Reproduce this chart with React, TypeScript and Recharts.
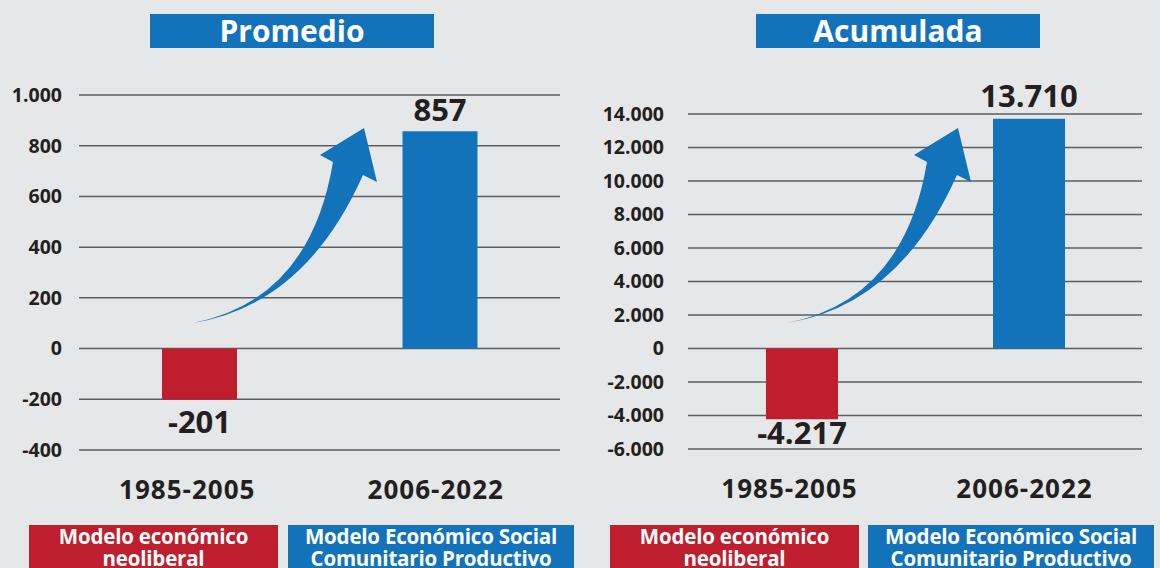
import { BarChart, Bar, XAxis, YAxis, CartesianGrid, Cell, LabelList } from "recharts";

// Two panels: average and accumulated value per economic-model period.
const CATEGORIES = ["1985-2005", "2006-2022"];
const PROMEDIO = [-201, 857];
const ACUMULADA = [-4217, 13710];
const PROMEDIO_TICKS = [-400, -200, 0, 200, 400, 600, 800, 1000];
const ACUMULADA_TICKS = [-6000, -4000, -2000, 0, 2000, 4000, 6000, 8000, 10000, 12000, 14000];
const LEGEND_LINES = [
  ["Modelo económico", "neoliberal"],
  ["Modelo Económico Social", "Comunitario Productivo"],
];

const RED = "#be1e2d";
const BLUE = "#1273bb";
const BAR_COLORS = [RED, BLUE];
const BG = "#e6e7e8";
const INK = "#231f20";
const GRID = "#5d5e61";
const FONT = "'Open Sans', 'DejaVu Sans', sans-serif";

const PANEL_W = 580;
const CHART_H = 510;
// category labels sit a little left of their bar centres in the original
const CAT_SHIFT = [-12, -4];

// 1000 -> "1.000", -4217 -> "-4.217"
const fmt = (n: number) => {
  const s = Math.abs(n)
    .toString()
    .replace(/\B(?=(\d{3})+(?!\d))/g, ".");
  return n < 0 ? "-" + s : s;
};

// Arrow outline relative to its tail point (pixels).
const ARROW = {
  c1: [117, -23],
  a: [140, -161],
  l: [127, -168],
  p: [171, -195],
  r: [184, -141],
  b: [170, -148],
  c2: [112, -18],
};

function arrowPath(tx: number, ty: number) {
  const pt = (k: keyof typeof ARROW) => `${tx + ARROW[k][0]},${ty + ARROW[k][1]}`;
  return `M${tx},${ty} Q${pt("c1")} ${pt("a")} L${pt("l")} L${pt("p")} L${pt("r")} L${pt("b")} Q${pt("c2")} ${tx},${ty} Z`;
}

interface PanelProps {
  left: number;
  title: string;
  titleLeft: number;
  values: number[];
  ticks: number[];
  yAxisWidth: number;
  marginRight: number;
  marginTop: number;
  xAxisHeight: number;
  tickGap: number;
  barSize: number;
  posGap: number;
  negGap: number;
  legend: Array<{ left: number; width: number }>;
  arrowTail: [number, number];
}

function Panel(p: PanelProps) {
  const data = CATEGORIES.map((cat, i) => ({ cat, value: p.values[i] }));

  const renderLabel = (props: any) => {
    const { x, y, width, height, value } = props;
    const top = Math.min(y, y + height);
    const bottom = Math.max(y, y + height);
    const ty = value < 0 ? bottom + p.negGap : top - p.posGap;
    return (
      <text
        x={x + width / 2}
        y={ty}
        textAnchor="middle"
        fill={INK}
        fontSize={31}
        fontWeight={700}
        fontFamily={FONT}
      >
        {fmt(value)}
      </text>
    );
  };

  const renderCatTick = (props: any) => {
    const { x, y, payload, index } = props;
    return (
      <text
        x={x + (CAT_SHIFT[index] ?? 0)}
        y={y + 49}
        textAnchor="middle"
        fill={INK}
        fontSize={26}
        fontWeight={700}
        letterSpacing={1}
        fontFamily={FONT}
      >
        {payload.value}
      </text>
    );
  };

  return (
    <div style={{ position: "absolute", left: p.left, top: 0, width: PANEL_W, height: 568 }}>
      <div
        style={{
          position: "absolute",
          left: p.titleLeft,
          top: 14,
          width: 284,
          height: 34,
          background: BLUE,
          color: "#fff",
          fontFamily: FONT,
          fontWeight: 700,
          fontSize: 30,
          lineHeight: "34px",
          textAlign: "center",
        }}
      >
        {p.title}
      </div>

      <div style={{ position: "absolute", left: 0, top: 0 }}>
        <BarChart
          width={PANEL_W}
          height={CHART_H}
          data={data}
          margin={{ top: p.marginTop, right: p.marginRight, left: 0, bottom: 0 }}
        >
          <CartesianGrid vertical={false} stroke={GRID} strokeWidth={1.5} />
          <XAxis
            dataKey="cat"
            axisLine={false}
            tickLine={false}
            tickSize={0}
            tickMargin={0}
            height={p.xAxisHeight}
            tick={renderCatTick}
            interval={0}
          />
          <YAxis
            domain={[p.ticks[0], p.ticks[p.ticks.length - 1]]}
            ticks={p.ticks}
            interval={0}
            width={p.yAxisWidth}
            axisLine={false}
            tickLine={false}
            tickSize={0}
            tickMargin={p.tickGap}
            tickFormatter={fmt}
            tick={{ fill: INK, fontSize: 19.5, fontWeight: 700, fontFamily: FONT }}
          />
          <Bar dataKey="value" barSize={p.barSize} isAnimationActive={false}>
            {data.map((d, i) => (
              <Cell key={d.cat} fill={BAR_COLORS[i]} />
            ))}
            <LabelList dataKey="value" content={renderLabel} />
          </Bar>
        </BarChart>
      </div>

      {/* decorative curved arrow from the red bar toward the blue one */}
      <svg
        width={PANEL_W}
        height={CHART_H}
        style={{ position: "absolute", left: 0, top: 0, pointerEvents: "none" }}
      >
        <path d={arrowPath(p.arrowTail[0], p.arrowTail[1])} fill={BLUE} />
      </svg>

      {p.legend.map((box, i) => (
        <div
          key={i}
          style={{
            position: "absolute",
            left: box.left,
            top: 525,
            width: box.width,
            height: 60,
            background: BAR_COLORS[i],
            color: "#fff",
            fontFamily: FONT,
            fontWeight: 700,
            fontSize: 20.5,
            lineHeight: "22px",
            letterSpacing: -0.2,
            textAlign: "center",
            paddingTop: 0,
            boxSizing: "border-box",
            whiteSpace: "nowrap",
          }}
        >
          {LEGEND_LINES[i][0]}
          <br />
          {LEGEND_LINES[i][1]}
        </div>
      ))}
    </div>
  );
}

export default function App() {
  return (
    <div
      style={{
        position: "absolute",
        left: 0,
        top: 0,
        width: 1160,
        height: 568,
        background: BG,
        overflow: "hidden",
      }}
    >
      <Panel
        left={0}
        title="Promedio"
        titleLeft={150}
        values={PROMEDIO}
        ticks={PROMEDIO_TICKS}
        yAxisWidth={79}
        marginRight={20}
        marginTop={95}
        xAxisHeight={60}
        tickGap={17}
        barSize={75}
        posGap={10}
        negGap={33}
        legend={[
          { left: 29, width: 249 },
          { left: 288, width: 286 },
        ]}
        arrowTail={[193, 323]}
      />
      <Panel
        left={580}
        title="Acumulada"
        titleLeft={176}
        values={ACUMULADA}
        ticks={ACUMULADA_TICKS}
        yAxisWidth={108}
        marginRight={18}
        marginTop={114}
        xAxisHeight={61}
        tickGap={24}
        barSize={72}
        posGap={12}
        negGap={25}
        legend={[
          { left: 30, width: 249 },
          { left: 288, width: 286 },
        ]}
        arrowTail={[207, 323]}
      />
    </div>
  );
}
